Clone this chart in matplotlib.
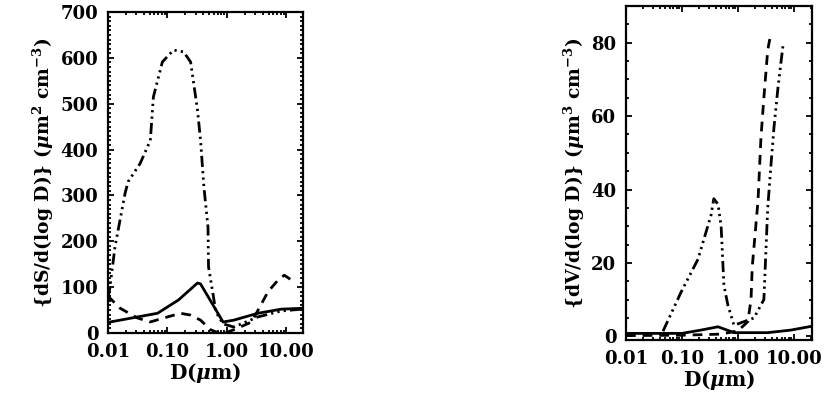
import numpy as np
import matplotlib
matplotlib.use("Agg")
import matplotlib.pyplot as plt
from matplotlib.ticker import FixedLocator, MultipleLocator, NullFormatter, LogLocator

plt.rcParams['font.family'] = ['DejaVu Serif']
plt.rcParams['font.weight'] = 'bold'
plt.rcParams['mathtext.fontset'] = 'custom'
plt.rcParams['mathtext.rm'] = 'DejaVu Serif:bold'
plt.rcParams['mathtext.it'] = 'DejaVu Serif:italic:bold'
plt.rcParams['mathtext.bf'] = 'DejaVu Serif:bold'

# ---- surface distribution dS/dlogD ----
s_fine_d = [0.010, 0.0108, 0.0131, 0.0194, 0.0218, 0.0348, 0.0515, 0.058, 0.082, 0.126,
            0.187, 0.245, 0.32, 0.36, 0.41, 0.48, 0.49, 0.58, 0.65, 0.86, 1.3, 3.3, 8.2, 18.0]
s_fine_v = [75, 100, 188, 305, 330, 370, 420, 515, 591, 617,
            613, 591, 486, 420, 318, 231, 144, 87, 46, 20, 13, 35, 48, 52]

s_solid_d = [0.010, 0.0108, 0.068, 0.153, 0.32, 0.36, 0.86, 1.3, 3.3, 8.2, 20.0]
s_solid_v = [22, 24, 43, 72, 109, 107, 24, 28, 43, 52, 54]

s_dash_d = [0.010, 0.0108, 0.016, 0.031, 0.051, 0.10, 0.166, 0.245, 0.36, 0.53, 0.70,
            0.96, 1.3, 2.6, 4.9, 7.3, 9.2, 12.0]
s_dash_v = [70, 76, 54, 33, 24, 35, 43, 39, 28, 7, 1, 1, 7, 24, 90, 116, 126, 116]

# ---- volume distribution dV/dlogD ----
v_fine_d = [0.0458, 0.096, 0.193, 0.33, 0.37, 0.44, 0.50, 0.56, 0.66, 0.85,
            1.93, 2.9, 3.4, 3.9, 4.4, 5.2, 6.4]
v_fine_v = [1.4, 12, 21, 33, 37.5, 36, 30, 14, 8.5, 3,
            5, 10, 35, 47, 57, 68, 79.5]

v_solid_d = [0.010, 0.10, 0.218, 0.44, 0.85, 3.4, 8.8, 20.0]
v_solid_v = [0.8, 0.8, 1.7, 2.6, 1.0, 1.0, 1.7, 2.7]

v_dash_d = [0.010, 0.10, 0.5, 1.0, 1.5, 1.71, 1.8, 2.28, 2.57, 2.9, 3.4, 3.7]
v_dash_v = [0.2, 0.3, 0.6, 1.5, 4, 10, 19, 37, 54, 65, 78, 81]

x_ticks = [0.01, 0.1, 1.0, 10.0]
x_ticklabels = ["0.01", "0.10", "1.00", "10.00"]
s_yticks = [0, 100, 200, 300, 400, 500, 600, 700]
v_yticks = [0, 20, 40, 60, 80]

fig = plt.figure(figsize=(8.27, 3.99), dpi=100)
ax1 = fig.add_axes([108/827, 66/399, 195/827, 321/399])
ax2 = fig.add_axes([626/827, 59/399, 186/827, 334/399])

lw = 2.0
dash3 = (0, (4, 1.5, 0.8, 1.5, 0.8, 1.5, 0.8, 1.5))
dashed = (0, (3.5, 2.5))

ax1.plot(s_fine_d, s_fine_v, color='black', lw=lw, linestyle=dash3)
ax1.plot(s_solid_d, s_solid_v, color='black', lw=lw, linestyle='-')
ax1.plot(s_dash_d, s_dash_v, color='black', lw=lw, linestyle=dashed)

ax2.plot(v_fine_d, v_fine_v, color='black', lw=lw, linestyle=dash3)
ax2.plot(v_solid_d, v_solid_v, color='black', lw=lw, linestyle='-')
ax2.plot(v_dash_d, v_dash_v, color='black', lw=lw, linestyle=dashed)

def style(ax, yticks, ylim, yminor, ylabel, xlim):
    ax.set_xscale('log')
    ax.set_xlim(*xlim)
    ax.set_ylim(*ylim)
    ax.xaxis.set_major_locator(FixedLocator(x_ticks))
    ax.set_xticklabels(x_ticklabels)
    ax.xaxis.set_minor_locator(LogLocator(base=10, subs=np.arange(2, 10)))
    ax.xaxis.set_minor_formatter(NullFormatter())
    ax.set_yticks(yticks)
    ax.yaxis.set_minor_locator(MultipleLocator(yminor))
    ax.tick_params(which='both', direction='in', top=True, right=True, width=1.3)
    ax.tick_params(which='major', length=4.5, labelsize=13, pad=7)
    ax.tick_params(which='minor', length=2.2)
    for sp in ax.spines.values():
        sp.set_linewidth(1.6)
    ax.set_xlabel(r"D($\mu$m)", fontsize=14.5, fontweight='bold', labelpad=0)
    ax.set_ylabel(ylabel, fontsize=13.5, fontweight='bold', labelpad=3)

style(ax1, s_yticks, (0, 700), 10,
      r"{dS/d(log D)} ($\mu$m$^{2}$ cm$^{-3}$)", (0.01, 19))
style(ax2, v_yticks, (-1, 90), 5,
      r"{dV/d(log D)} ($\mu$m$^{3}$ cm$^{-3}$)", (0.01, 21))

fig.savefig("out.png", dpi=100)
